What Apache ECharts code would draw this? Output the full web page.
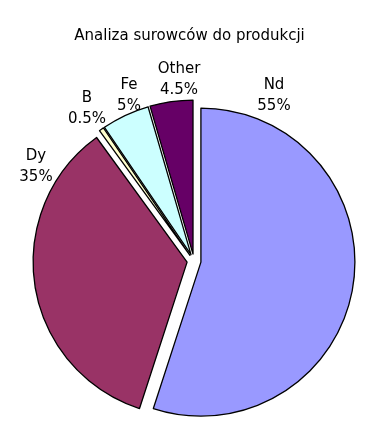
<!DOCTYPE html>
<html>
<head>
<meta charset="utf-8">
<script src="https://cdn.jsdelivr.net/npm/echarts@6/dist/echarts.min.js"></script>
<style>html,body{margin:0;padding:0;background:#fff;}#c{width:379px;height:438px;}</style>
</head>
<body>
<div id="c"></div>
<script>
var categories = ['Nd', 'Dy', 'B', 'Fe', 'Other'];
var values = [55, 35, 0.5, 5, 4.5];
var colors = ['#9999FF', '#993366', '#FFFFCC', '#CCFFFF', '#660066'];
var titleText = 'Analiza surowców do produkcji';

// label block centres (text placement only)
var labelPos = [[274, 96], [36, 167], [87, 109], [129, 96], [179, 80]];

var chart = echarts.init(document.getElementById('c'));
chart.setOption({
  animation: false,
  title: {
    text: titleText, left: 'center', top: 24,
    textStyle: {fontFamily: 'DejaVu Sans', fontSize: 15, fontWeight: 'normal', color: '#000'}
  },
  graphic: categories.map(function (c, i) {
    return {
      type: 'text', x: labelPos[i][0], y: labelPos[i][1], silent: true,
      style: {
        text: c + '\n' + values[i] + '%',
        fontFamily: 'DejaVu Sans', fontSize: 15, lineHeight: 21, fill: '#000',
        align: 'center', verticalAlign: 'middle'
      }
    };
  }),
  series: [{
    type: 'pie',
    center: [194, 261],
    radius: 154,
    startAngle: 90,
    clockwise: true,
    selectedMode: 'multiple',
    selectedOffset: 7,
    itemStyle: {borderColor: '#000', borderWidth: 1.3},
    emphasis: {disabled: true},
    label: {show: false},
    labelLine: {show: false},
    data: categories.map(function (c, i) {
      return {name: c, value: values[i], selected: true, itemStyle: {color: colors[i]}, select: {itemStyle: {color: colors[i], borderColor: '#000', borderWidth: 1.3}}};
    })
  }]
});
</script>
</body>
</html>
